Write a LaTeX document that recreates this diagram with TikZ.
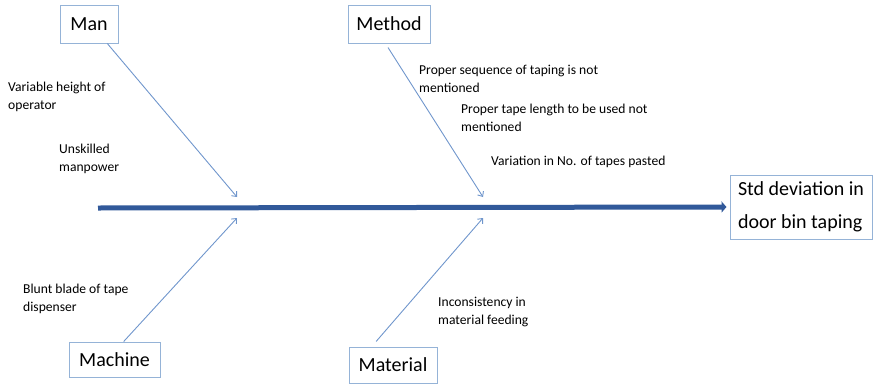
\documentclass[tikz,border=0pt]{standalone}
\usepackage{fontspec}
\setmainfont{Carlito}
\usetikzlibrary{arrows.meta,calc}
\definecolor{boxline}{HTML}{95B3D7}
\definecolor{branchcol}{HTML}{7096CC}
\definecolor{spinecol}{HTML}{31599A}
% two stacked lines whose baseline is that of the first line
\newcommand{\pairlines}[2]{\vtop{\hbox{#1}\hbox{#2}}}
\begin{document}
\begin{tikzpicture}[x=1pt,y=-1pt,
  catbox/.style={draw=boxline, line width=1pt, inner sep=0pt,
    font=\fontsize{20}{24}\selectfont, text height=13pt, text depth=0pt},
  cause/.style={anchor=base west, inner sep=0pt,
    font=\fontsize{13.6}{18}\selectfont},
  branch/.style={draw=branchcol, line width=0.9pt,
    -{Straight Barb[length=4pt,width=7pt]}},
  spine/.style={draw=spinecol, line width=5pt,
    -{Triangle[length=5pt,width=11pt]}}
]
\useasboundingbox (0,0) rectangle (873,386);

% category boxes
\node[catbox, minimum width=58pt, minimum height=38pt] (man) at (89,24) {Man};
\node[catbox, minimum width=82pt, minimum height=38pt] (method) at (389,24) {Method};
\node[catbox, minimum width=91pt, minimum height=35pt] (machine) at (114.5,359.5) {Machine};
\node[catbox, minimum width=88pt, minimum height=36pt] (material) at (393,365) {Material};

% effect box
\node[draw=boxline, line width=1pt, minimum width=142pt, minimum height=64pt,
  align=left, inner sep=0pt, font=\fontsize{20}{33}\selectfont] (effect) at (801,207)
  {Std deviation in\\door bin taping};

% spine
\coordinate (tail) at (98,208);
\draw[spine, shorten >=3pt] (tail) -- (effect.west);

% branch tips on the spine
\coordinate (mantip) at (237,197);
\coordinate (methodtip) at (483,197);
\coordinate (machinetip) at (237,218);
\coordinate (materialtip) at (483,218);

\draw[branch] ($(man.south west)!0.81!(man.south east)$) -- (mantip);
\draw[branch] ($(method.south)+(-1,4)$) -- (methodtip);
\draw[branch] ($(machine.north west)!0.6!(machine.north east)$) -- (machinetip);
\draw[branch] ($(material.north west)!0.31!(material.north east)+(0,-5)$) -- (materialtip);

% causes
\node[cause] (c1) at (8,91) {\pairlines{Variable height of}{operator}};
\node[cause] (c2) at (59,153) {\pairlines{Unskilled}{manpower}};
\node[cause] (c3) at (419,74) {\pairlines{Proper sequence of taping is not}{mentioned}};
\node[cause] (c4) at (461,113) {\pairlines{Proper tape length to be used not}{mentioned}};
\node[cause] (c5) at (491,165) {Variation in No. of tapes pasted};
\node[cause] (c6) at (23,293) {\pairlines{Blunt blade of tape}{dispenser}};
\node[cause] (c7) at (438,306) {\pairlines{Inconsistency in}{material feeding}};
\end{tikzpicture}
\end{document}
